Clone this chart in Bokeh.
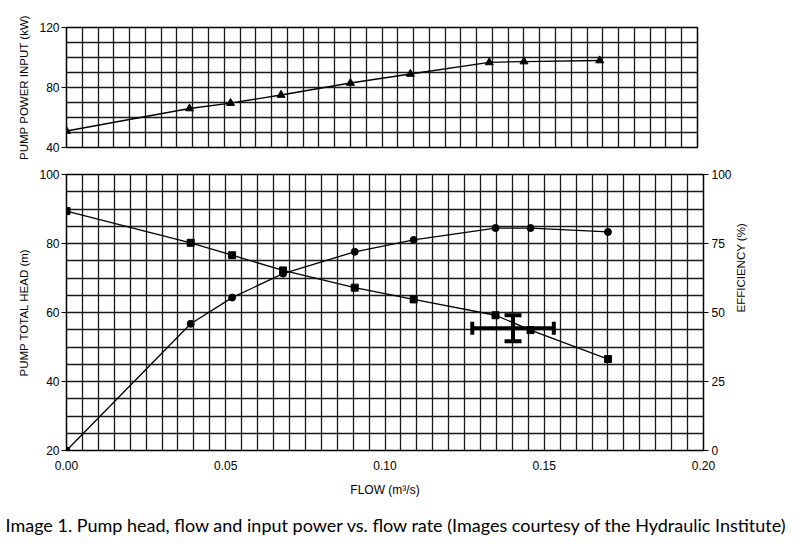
import math
from bokeh.plotting import figure
from bokeh.layouts import column
from bokeh.models import (Range1d, LinearAxis, FixedTicker, Whisker, TeeHead,
                          ColumnDataSource, Title)
from bokeh.embed import file_html
from bokeh.resources import INLINE

# ---------------- data ----------------
flow_power = [0.0, 0.039, 0.052, 0.068, 0.090, 0.109, 0.134, 0.145, 0.169]
power_kw = [51.0, 66.0, 69.6, 75.0, 83.0, 89.0, 96.7, 97.3, 98.0]

flow_head = [0.0, 0.039, 0.052, 0.068, 0.0905, 0.109, 0.1347, 0.1457, 0.170]
head_m = [89.4, 80.2, 76.6, 72.2, 67.2, 63.8, 59.2, 54.9, 46.5]

flow_eff = [0.0, 0.039, 0.052, 0.068, 0.0905, 0.109, 0.1347, 0.1457, 0.170]
eff_pct = [0.0, 45.9, 55.4, 64.1, 72.0, 76.3, 80.6, 80.6, 79.2]

# duty point with tolerance band
duty_flow = [0.1402]
duty_head = [55.4]
duty_flow_lo = [0.1274]
duty_flow_hi = [0.1530]
duty_head_lo = [51.7]
duty_head_hi = [59.2]

x_ticks = [0.0, 0.05, 0.10, 0.15, 0.20]
x_grid = [i * 0.005 for i in range(41)]
power_ticks = [40, 80, 120]
power_grid = list(range(40, 121, 10))
head_ticks = [20, 40, 60, 80, 100]
head_grid = list(range(20, 101, 5))
eff_ticks = [0, 25, 50, 75, 100]

caption = "Image 1. Pump head, flow and input power vs. flow rate (Images courtesy of the Hydraulic Institute)"

FONT = "Liberation Sans"
GRID_COLOR = "#1a1a1a"
VLABEL_SIZE = "11.5px"
XLABEL_SIZE = "12px"
TICK_SIZE = "12px"


def style_yaxis(ax):
    ax.axis_line_color = None
    ax.major_tick_out = 5
    ax.major_tick_in = 0
    ax.minor_tick_out = 0
    ax.minor_tick_in = 0
    ax.major_label_standoff = 2
    ax.major_label_text_font = FONT
    ax.major_label_text_font_size = TICK_SIZE
    ax.major_label_text_color = "black"
    ax.axis_label_text_font = FONT
    ax.axis_label_text_font_size = VLABEL_SIZE
    ax.axis_label_text_font_style = "normal"
    ax.axis_label_text_color = "black"
    ax.axis_label_standoff = 6
    ax.major_tick_line_color = "black"


def style_common(p):
    p.outline_line_color = "black"
    p.outline_line_width = 1.5
    p.background_fill_color = "white"
    p.border_fill_color = "white"
    p.xgrid.ticker = FixedTicker(ticks=x_grid)
    p.xgrid.grid_line_color = GRID_COLOR
    p.xgrid.grid_line_width = 1.3
    p.ygrid.grid_line_color = GRID_COLOR
    p.ygrid.grid_line_width = 1.3


# ---------------- top: power input ----------------
top = figure(frame_width=631, frame_height=120, x_range=Range1d(0, 0.2),
             y_range=Range1d(40, 120), output_backend="svg",
             toolbar_location=None, min_border_left=66, min_border_top=27,
             min_border_bottom=15, min_border_right=10)
top.xaxis.visible = False
top.yaxis[0].ticker = FixedTicker(ticks=power_ticks)
top.ygrid.ticker = FixedTicker(ticks=power_grid)
top.yaxis[0].axis_label = "PUMP POWER INPUT (kW)"
style_common(top)
style_yaxis(top.yaxis[0])
top.line(flow_power, power_kw, line_color="black", line_width=1.3)
top.scatter(flow_power, power_kw, marker="triangle", size=8,
            fill_color="black", line_color="black")

# ---------------- bottom: head + efficiency ----------------
bot = figure(frame_width=637, frame_height=276, x_range=Range1d(0, 0.2),
             y_range=Range1d(20, 100), output_backend="svg",
             toolbar_location=None, min_border_left=66, min_border_top=12,
             min_border_bottom=10, min_border_right=100)
left_ax = bot.yaxis[0]
left_ax.ticker = FixedTicker(ticks=head_ticks)
left_ax.axis_label = "PUMP TOTAL HEAD (m)"
style_yaxis(left_ax)

bot.extra_y_ranges = {"eff": Range1d(0, 100)}
right_ax = LinearAxis(y_range_name="eff", axis_label="EFFICIENCY (%)",
                      ticker=FixedTicker(ticks=eff_ticks))
style_yaxis(right_ax)
right_ax.major_label_standoff = 3
right_ax.axis_label_orientation = math.pi / 2
bot.add_layout(right_ax, "right")

bot.ygrid.ticker = FixedTicker(ticks=head_grid)
style_common(bot)

xa = bot.xaxis[0]
xa.ticker = FixedTicker(ticks=x_ticks)
xa.major_label_overrides = {0.0: "0.00", 0.05: "0.05", 0.1: "0.10", 0.15: "0.15", 0.2: "0.20"}
xa.axis_line_color = None
xa.major_tick_out = 0
xa.major_tick_in = 0
xa.minor_tick_out = 0
xa.minor_tick_in = 0
xa.major_label_standoff = 10
xa.major_label_text_font = FONT
xa.major_label_text_font_size = TICK_SIZE
xa.major_label_text_color = "black"
xa.axis_label = "FLOW (m³/s)"
xa.axis_label_text_font = FONT
xa.axis_label_text_font_size = XLABEL_SIZE
xa.axis_label_text_font_style = "normal"
xa.axis_label_text_color = "black"
xa.axis_label_standoff = 10

bot.line(flow_head, head_m, line_color="black", line_width=1.3)
bot.scatter(flow_head, head_m, marker="square", size=7,
            fill_color="black", line_color="black")
bot.line(flow_eff, eff_pct, y_range_name="eff", line_color="black", line_width=1.3)
bot.scatter(flow_eff, eff_pct, y_range_name="eff", marker="circle", size=7,
            fill_color="black", line_color="black")

src_v = ColumnDataSource(dict(base=duty_flow, lower=duty_head_lo, upper=duty_head_hi))
src_h = ColumnDataSource(dict(base=duty_head, lower=duty_flow_lo, upper=duty_flow_hi))
wv = Whisker(source=src_v, base="base", lower="lower", upper="upper",
             dimension="height", line_width=4, line_color="black",
             upper_head=TeeHead(size=17, line_width=4, line_color="black"),
             lower_head=TeeHead(size=17, line_width=4, line_color="black"))
wh = Whisker(source=src_h, base="base", lower="lower", upper="upper",
             dimension="width", line_width=4, line_color="black",
             upper_head=TeeHead(size=13, line_width=4, line_color="black"),
             lower_head=TeeHead(size=13, line_width=4, line_color="black"))
bot.add_layout(wv)
bot.add_layout(wh)

cap = Title(text=caption, align="left", offset=-61, standoff=25,
            text_font="Lato", text_font_size="18px", text_font_style="normal",
            text_color="black")
bot.add_layout(cap, "below")

layout = column(top, bot, spacing=0)
open("out.html", "w").write(file_html(layout, INLINE))
